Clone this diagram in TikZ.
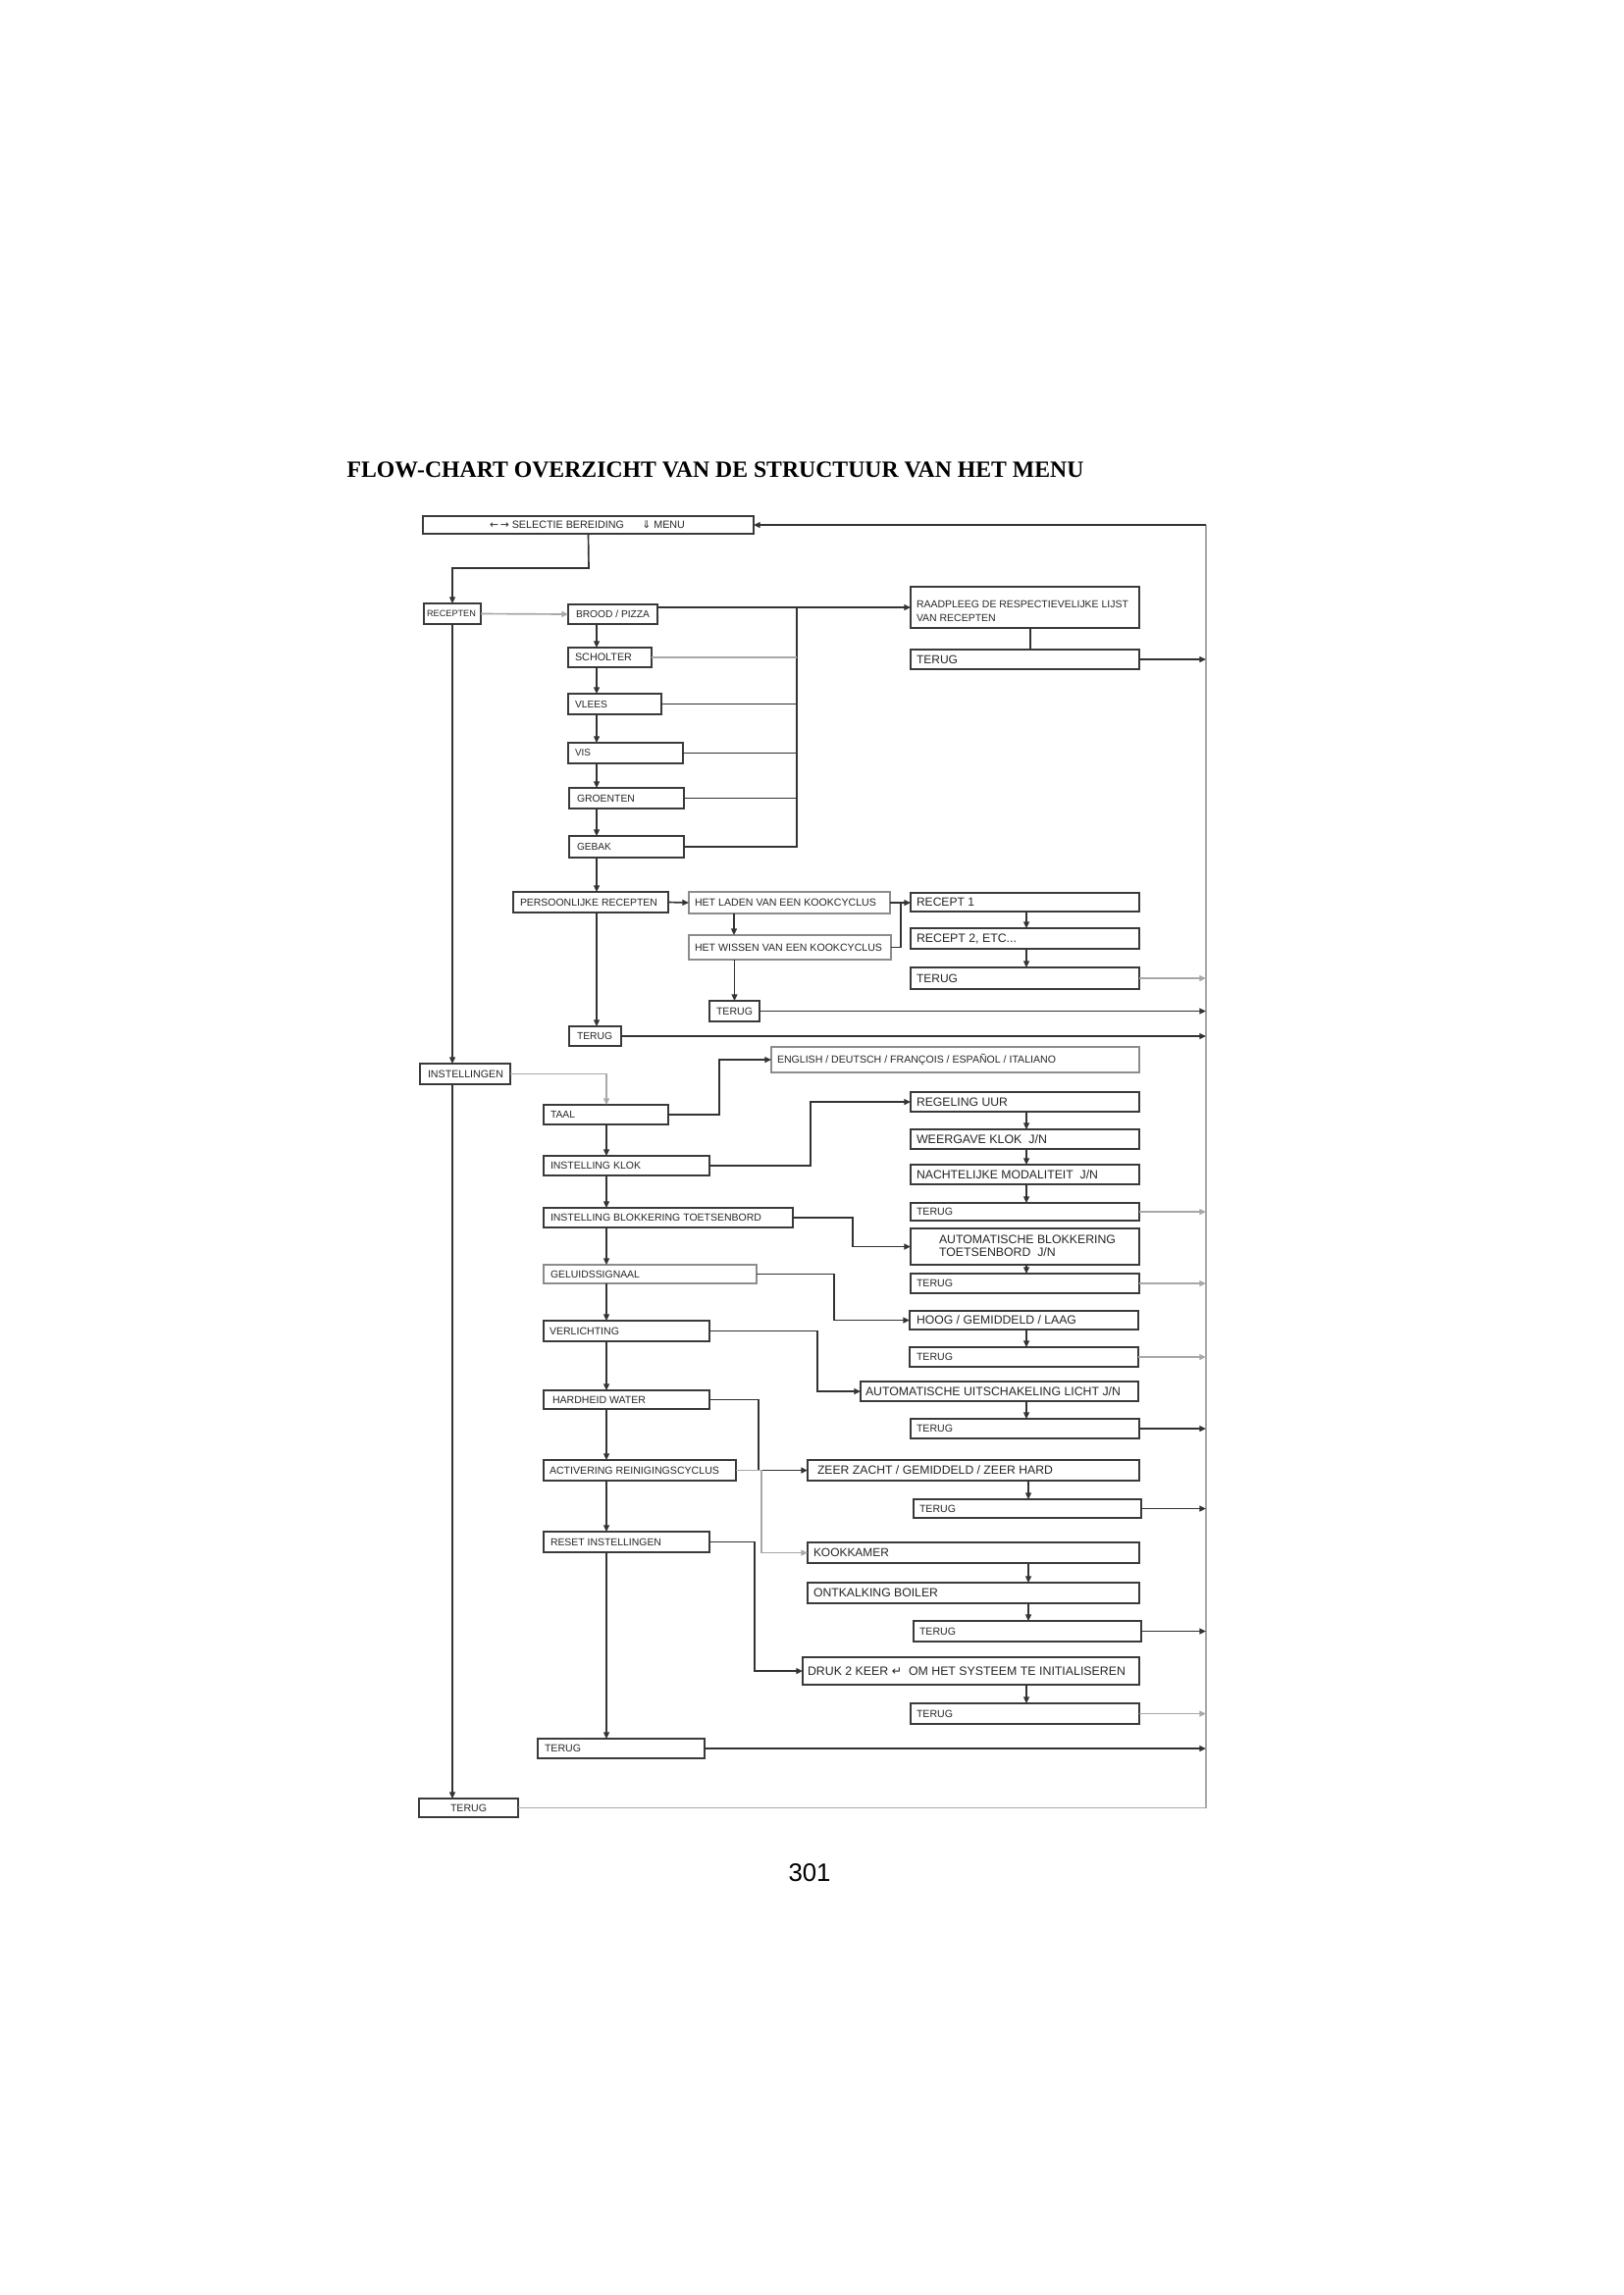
\documentclass[tikz,border=0pt]{standalone}
\usepackage{fontspec}
\setmainfont{Liberation Sans}
\newfontfamily\dv{DejaVu Sans}
\newfontfamily\tms{Liberation Serif}
\usepackage{graphicx}
\usetikzlibrary{arrows.meta,calc}
\definecolor{lc}{HTML}{333333}
\definecolor{lg}{HTML}{A8A8A8}
\definecolor{bc}{HTML}{3A3A3A}
\definecolor{bg}{HTML}{8C8C8C}
\definecolor{tc}{HTML}{262626}
\newdimen\pxu \pxu=0.36pt
\tikzset{
 boxst/.style={draw=bc, line width=0.75pt, fill=white, inner sep=0pt, outer sep=0pt},
 boxgr/.style={boxst, draw=bg},
 txt/.style={anchor=west, inner sep=0pt, outer sep=0pt, text=tc, font=\fontsize{10}{12}\selectfont},
 ln/.style={draw=lc, line width=0.6pt},
 lngr/.style={draw=lg, line width=0.6pt},
 arr/.style={ln, -{Triangle[length=2.4pt,width=2.1pt]}},
 arrgr/.style={lngr, -{Triangle[length=2.4pt,width=2.1pt]}},
}
\newcommand\ebox[6][boxst]{%
 \pgfmathsetmacro\bw{(#5-#3)*0.36}%
 \pgfmathsetmacro\bh{(#6-#4)*0.36}%
 \node[#1, minimum width=\bw pt, minimum height=\bh pt] (#2) at ({(#3+#5)/2},{(#4+#6)/2}) {};}
\newcommand\mybox[9][boxst]{%
 \ebox[#1]{#2}{#3}{#4}{#5}{#6}%
 \node[txt] (#2-t) at (#7,{(#4+#6)/2}) {\resizebox{#8\pxu}{!}{#9}};}
\begin{document}
\begin{tikzpicture}[x=0.36pt,y=-0.36pt]
\fill[white] (0,0) rectangle (1654,2339);
\useasboundingbox (0,0) rectangle (1654,2339);

\node[anchor=base west, inner sep=0pt, text=black] (title) at (353,486)
  {\resizebox{751\pxu}{!}{\tms\bfseries FLOW-CHART OVERZICHT VAN DE STRUCTUUR VAN HET MENU}};
\node[anchor=base west, inner sep=0pt, text=black] (pnum) at (803,1917) {\resizebox{43\pxu}{!}{301}};

% ---------- boxes ----------
\mybox{sel}{431}{526}{768}{544}{499}{199}{{\dv ←\,→}\ SELECTIE BEREIDING\hspace{1.7em}{\dv ⇓} MENU}
\mybox{rec}{432}{615}{490}{636}{435}{50}{RECEPTEN}
\mybox{brood}{579}{616}{670}{636}{587}{75}{BROOD / PIZZA}
\mybox{scholt}{579}{660}{664}{680}{586}{58}{SCHOLTER}
\mybox{vlees}{579}{707}{674}{728}{586}{33}{VLEES}
\mybox{vis}{579}{757}{696}{778}{586}{16}{VIS}
\mybox{groent}{580}{803}{697}{824}{588}{59}{GROENTEN}
\mybox{gebak}{580}{852}{697}{874}{588}{35}{GEBAK}
\mybox{pers}{523}{909}{681}{930}{530}{140}{PERSOONLIJKE RECEPTEN}
\mybox[boxgr]{laden}{702}{909}{907}{931}{708}{185}{HET LADEN VAN EEN KOOKCYCLUS}
\mybox[boxgr]{wissen}{702}{953}{908}{978}{708}{191}{HET WISSEN VAN EEN KOOKCYCLUS}
\mybox{terA}{723}{1020}{774}{1041}{730}{37}{TERUG}
\mybox{terB}{580}{1046}{633}{1066}{588}{36}{TERUG}
\ebox{raad}{928}{598}{1161}{640}
\node[txt] (raad-t) at (934,624) {\resizebox{216\pxu}{!}{\begin{tabular}{@{}l@{}}RAADPLEEG DE RESPECTIEVELIJKE LIJST\\[1pt] VAN RECEPTEN\end{tabular}}};
\mybox{terC}{928}{662}{1161}{682}{934}{42}{TERUG}
\mybox{rc1}{928}{910}{1161}{929}{934}{59}{RECEPT 1}
\mybox{rc2}{928}{946}{1161}{967}{934}{102}{RECEPT 2, ETC...}
\mybox{terD}{928}{986}{1161}{1008}{934}{42}{TERUG}

\mybox{inst}{428}{1084}{520}{1105}{436}{77}{INSTELLINGEN}
\mybox{taal}{554}{1126}{681}{1146}{561}{25}{TAAL}
\mybox[boxgr]{eng}{786}{1067}{1161}{1093}{792}{284}{ENGLISH / DEUTSCH / FRANÇOIS / ESPAÑOL / ITALIANO}
\mybox{klok}{554}{1178}{723}{1198}{561}{92}{INSTELLING KLOK}
\mybox{blok}{554}{1231}{808}{1251}{561}{215}{INSTELLING BLOKKERING TOETSENBORD}
\mybox[boxgr]{gel}{554}{1289}{771}{1308}{561}{91}{GELUIDSSIGNAAL}
\mybox{regel}{928}{1113}{1161}{1133}{934}{93}{REGELING UUR}
\mybox{weerg}{928}{1151}{1161}{1171}{934}{133}{WEERGAVE KLOK\ \ J/N}
\mybox{nacht}{928}{1187}{1161}{1207}{934}{185}{NACHTELIJKE MODALITEIT\ \ J/N}
\mybox{terE}{928}{1226}{1161}{1244}{934}{37}{TERUG}
\ebox{autob}{928}{1252}{1161}{1289}
\node[txt] (autob-t) at (957,1271) {\resizebox{180\pxu}{!}{\begin{tabular}{@{}l@{}}AUTOMATISCHE BLOKKERING\\[-1pt] TOETSENBORD\ \ J/N\end{tabular}}};
\mybox{terF}{928}{1298}{1161}{1318}{934}{37}{TERUG}
\mybox{verl}{554}{1346}{723}{1367}{560}{71}{VERLICHTING}
\mybox{hard}{554}{1417}{723}{1436}{563}{95}{HARDHEID WATER}
\mybox{activ}{554}{1488}{750}{1509}{560}{173}{ACTIVERING REINIGINGSCYCLUS}
\mybox{reset}{554}{1561}{723}{1582}{561}{113}{RESET INSTELLINGEN}
\mybox{terG}{548}{1772}{718}{1792}{555}{37}{TERUG}
\mybox{terH}{427}{1833}{528}{1852}{459}{37}{TERUG}
\mybox{hoog}{927}{1336}{1160}{1355}{934}{163}{HOOG / GEMIDDELD / LAAG}
\mybox{terI}{927}{1373}{1160}{1393}{934}{37}{TERUG}
\mybox{autou}{877}{1408}{1160}{1428}{882}{260}{AUTOMATISCHE UITSCHAKELING LICHT J/N}
\mybox{terJ}{928}{1446}{1161}{1466}{934}{37}{TERUG}
\mybox{zeer}{823}{1488}{1161}{1509}{833}{240}{ZEER ZACHT / GEMIDDELD / ZEER HARD}
\mybox{terK}{931}{1528}{1163}{1547}{937}{37}{TERUG}
\mybox{kook}{823}{1572}{1161}{1593}{829}{77}{KOOKKAMER}
\mybox{ontk}{823}{1613}{1161}{1634}{829}{127}{ONTKALKING BOILER}
\mybox{terL}{931}{1652}{1163}{1673}{937}{37}{TERUG}
\mybox{druk}{818}{1689}{1161}{1717}{823}{324}{DRUK 2 KEER {\dv ↵}\ \ OM HET SYSTEEM TE INITIALISEREN}
\mybox{terM}{928}{1736}{1161}{1757}{934}{37}{TERUG}

% ---------- helper coordinates ----------
\coordinate (bus) at (1229,535);
\coordinate (b1) at (812,619);
\coordinate (cA) at (608,0);
\coordinate (cB) at (748,0);
\coordinate (cC) at (918,0);
\coordinate (cD) at (1046,0);
\coordinate (cE) at (1050,0);
\coordinate (cF) at (618,0);
\coordinate (cG) at (733,0);
\coordinate (cH) at (826,0);
\coordinate (cI) at (869,0);
\coordinate (cJ) at (850,0);
\coordinate (cK) at (833,0);
\coordinate (cL) at (773,0);
\coordinate (cM) at (1048,0);
\coordinate (cN) at (776,0);
\coordinate (cO) at (769,0);
\coordinate (selturn) at (600,579);

% ---------- connectors ----------
\draw[lngr] (terH.east) -| (bus);
\draw[arr] (bus) -- (sel.east);
\draw[arr] (sel.south) -- (selturn) -| (rec.north);
\draw[arrgr] (rec.east) -- (brood.west);
\draw[arr] (brood.east |- raad.west) -- (raad.west);
\draw[ln] (b1) -- (b1 |- gebak.east) -- (gebak.east);
\draw[lngr] (scholt.east) -- (scholt.east -| b1);
\draw[ln] (vlees.east) -- (vlees.east -| b1);
\draw[ln] (vis.east) -- (vis.east -| b1);
\draw[ln] (groent.east) -- (groent.east -| b1);
\foreach \a/\b in {brood/scholt,scholt/vlees,vlees/vis,vis/groent,groent/gebak,gebak/pers,pers/terB}
  \draw[arr] (\a.south -| cA) -- (\b.north -| cA);
\draw[arr] (pers.east) -- (laden.west);
\draw[arr] (laden.south -| cB) -- (wissen.north -| cB);
\draw[arr] (wissen.south -| terA.north) -- (terA.north);
\draw[arr] (laden.east) -- (laden.east -| rc1.west);
\draw[ln] (wissen.east) -| (laden.east -| cC);
\draw[ln] (raad.south -| cE) -- (terC.north -| cE);
\foreach \a/\b in {rc1/rc2,rc2/terD,regel/weerg,weerg/nacht,nacht/terE,autob/terF,hoog/terI,autou/terJ,druk/terM}
  \draw[arr] (\a.south -| cD) -- (\b.north -| cD);
\foreach \a/\b in {zeer/terK,kook/ontk,ontk/terL}
  \draw[arr] (\a.south -| cM) -- (\b.north -| cM);
\foreach \a in {terC,terA,terB,terJ,terK,terL,terG}
  \draw[arr] (\a.east) -- (\a.east -| bus);
\foreach \a in {terD,terE,terF,terI,terM}
  \draw[arrgr] (\a.east) -- (\a.east -| bus);

\draw[arr] (rec.south) -- (rec.south |- inst.north);
\draw[arr] (inst.south -| rec.south) -- (terH.north -| rec.south);
\draw[arrgr] (inst.east) -| (taal.north -| cF);
\foreach \a/\b in {taal/klok,klok/blok,blok/gel,gel/verl,verl/hard,hard/activ,activ/reset,reset/terG}
  \draw[arr] (\a.south -| cF) -- (\b.north -| cF);
\draw[arr] (taal.east) -- (taal.east -| cG) |- (eng.west);
\draw[arr] (klok.east) -- (klok.east -| cH) |- (regel.west);
\draw[arr] (blok.east) -- (blok.east -| cI) |- (autob.west);
\draw[arr] (gel.east) -- (gel.east -| cJ) |- (hoog.west);
\draw[arr] (verl.east) -- (verl.east -| cK) |- (autou.west);
\draw[arr] (hard.east) -- (hard.east -| cL) |- (zeer.west);
\draw[arrgr] (activ.east) -- (activ.east -| cN) |- (kook.west);
\draw[arr] (reset.east) -- (reset.east -| cO) |- (druk.west);
\end{tikzpicture}
\end{document}
